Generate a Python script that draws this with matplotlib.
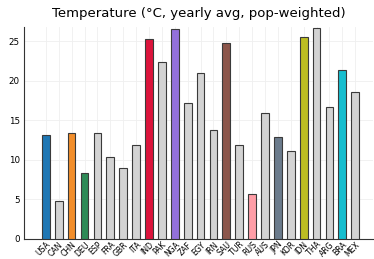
import matplotlib.pyplot as plt
import numpy as np

# Country codes and temperatures
countries = ['USA', 'CAN', 'CHN', 'DEU', 'ESP', 'FRA', 'GBR', 'ITA', 'IND', 'PAK', 'NGA', 'ZAF',
             'EGY', 'IRN', 'SAU', 'TUR', 'RUS', 'AUS', 'JPN', 'KOR', 'IDN', 'THA', 'ARG', 'BRA', 'MEX']
temps = [13.1, 4.8, 13.4, 8.3, 13.4, 10.3, 9.0, 11.8, 25.2, 22.4, 26.5, 17.2,
         21.0, 13.7, 24.7, 11.9, 5.6, 15.9, 12.9, 11.1, 25.5, 26.7, 16.7, 21.4, 18.6]

highlight = {'USA': '#1f77b4', 'CHN': '#f28e2b', 'DEU': '#2e8b57', 'IND': '#dc143c',
             'NGA': '#9370db', 'SAU': '#8c564b', 'RUS': '#ff9ea7', 'JPN': '#6b7b8c',
             'IDN': '#bcbd22', 'BRA': '#17becf'}
colors = [highlight.get(c, '#d3d3d3') for c in countries]

x = np.arange(len(countries))

fig, ax = plt.subplots(figsize=(3.74, 2.59), dpi=100)
fig.subplots_adjust(left=0.064, right=0.998, top=0.895, bottom=0.078)

ax.bar(x, temps, width=0.6, color=colors, edgecolor='#3a3a3a', linewidth=0.8, zorder=3)

ax.set_xlim(-1.7, len(countries) - 1 + 1.4)
ax.set_ylim(0, 26.75)
ax.set_xticks(x)
ax.set_xticklabels(countries, rotation=45, ha='right', rotation_mode='anchor', fontsize=5.6)
ax.set_yticks([0, 5, 10, 15, 20, 25])
ax.tick_params(axis='y', labelsize=6.3, length=0, pad=3)
ax.tick_params(axis='x', length=0, pad=1)
ax.grid(True, color='#efefef', linewidth=0.6, zorder=0)
for s in ['top', 'right']:
    ax.spines[s].set_visible(False)
for s in ['left', 'bottom']:
    ax.spines[s].set_color('#333333')
    ax.spines[s].set_linewidth(0.8)

ax.set_title('Temperature (°C, yearly avg, pop-weighted)', fontsize=9.5, pad=7)

fig.savefig('out.png', dpi=100)
